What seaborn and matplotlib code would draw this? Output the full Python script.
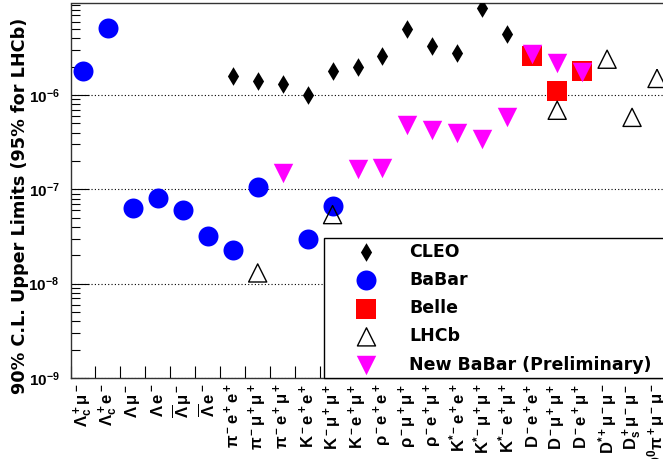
import numpy as np
import pandas as pd
import matplotlib
matplotlib.use("Agg")
import matplotlib.pyplot as plt
from matplotlib import ticker
import seaborn as sns

# decay channels along the x axis (keys + tick labels)
channels = ["Lc+mu-", "Lc+e-", "Lmu-", "Le-", "Lbarmu-", "Lbare-",
            "pi-e+e+", "pi-mu+mu+", "pi-e+mu+", "K-e+e+", "K-mu+mu+", "K-e+mu+",
            "rho-e+e+", "rho-mu+mu+", "rho-e+mu+", "K*-e+e+", "K*-mu+mu+", "K*-e+mu+",
            "D-e+e+", "D-mu+mu+", "D-e+mu+", "D*+mu-mu-", "Ds+mu-mu-", "D0pi+mu-mu-"]
channel_labels = [r"$\Lambda_c^+\mu^-$", r"$\Lambda_c^+e^-$", r"$\Lambda\,\mu^-$", r"$\Lambda\,e^-$",
                  r"$\overline{\Lambda}\,\mu^-$", r"$\overline{\Lambda}\,e^-$",
                  r"$\pi^-e^+e^+$", r"$\pi^-\mu^+\mu^+$", r"$\pi^-e^+\mu^+$",
                  r"$K^-e^+e^+$", r"$K^-\mu^+\mu^+$", r"$K^-e^+\mu^+$",
                  r"$\rho^-e^+e^+$", r"$\rho^-\mu^+\mu^+$", r"$\rho^-e^+\mu^+$",
                  r"$K^{*-}e^+e^+$", r"$K^{*-}\mu^+\mu^+$", r"$K^{*-}e^+\mu^+$",
                  r"$D^-e^+e^+$", r"$D^-\mu^+\mu^+$", r"$D^-e^+\mu^+$",
                  r"$D^{*+}\mu^-\mu^-$", r"$D_s^+\mu^-\mu^-$", r"$D^0\pi^+\mu^-\mu^-$"]

# upper limits per experiment
cleo_ch = ["pi-e+e+", "pi-mu+mu+", "pi-e+mu+", "K-e+e+", "K-mu+mu+", "K-e+mu+",
           "rho-e+e+", "rho-mu+mu+", "rho-e+mu+", "K*-e+e+", "K*-mu+mu+", "K*-e+mu+"]
cleo_ul = [1.6e-6, 1.4e-6, 1.3e-6, 1.0e-6, 1.8e-6, 2.0e-6,
           2.6e-6, 5.0e-6, 3.3e-6, 2.8e-6, 8.3e-6, 4.4e-6]

babar_ch = ["Lc+mu-", "Lc+e-", "Lmu-", "Le-", "Lbarmu-", "Lbare-",
            "pi-e+e+", "pi-mu+mu+", "K-e+e+", "K-mu+mu+"]
babar_ul = [1.8e-6, 5.2e-6, 6.3e-8, 8.1e-8, 6.1e-8, 3.2e-8,
            2.3e-8, 1.07e-7, 3.0e-8, 6.7e-8]

belle_ch = ["D-e+e+", "D-mu+mu+", "D-e+mu+"]
belle_ul = [2.6e-6, 1.1e-6, 1.8e-6]

lhcb_ch = ["pi-mu+mu+", "K-mu+mu+", "D-mu+mu+", "D*+mu-mu-", "Ds+mu-mu-", "D0pi+mu-mu-"]
lhcb_ul = [1.3e-8, 5.4e-8, 6.9e-7, 2.4e-6, 5.8e-7, 1.5e-6]

newbabar_ch = ["pi-e+mu+", "K-e+mu+", "rho-e+e+", "rho-mu+mu+", "rho-e+mu+",
               "K*-e+e+", "K*-mu+mu+", "K*-e+mu+", "D-e+e+", "D-mu+mu+", "D-e+mu+"]
newbabar_ul = [1.5e-7, 1.65e-7, 1.7e-7, 4.8e-7, 4.3e-7,
               4.0e-7, 3.4e-7, 5.9e-7, 2.7e-6, 2.2e-6, 1.75e-6]


def frame(ch, ul):
    return pd.DataFrame({"x": [channels.index(c) for c in ch], "ul": ul})


sns.set_theme(style="white")
plt.rcParams["font.family"] = ["Liberation Sans", "DejaVu Sans"]
plt.rcParams["font.weight"] = "bold"
plt.rcParams["text.color"] = "black"
plt.rcParams["axes.labelcolor"] = "black"
plt.rcParams["xtick.color"] = "black"
plt.rcParams["ytick.color"] = "black"
plt.rcParams["mathtext.fontset"] = "custom"
plt.rcParams["mathtext.rm"] = "Liberation Sans:bold"
plt.rcParams["mathtext.bf"] = "Liberation Sans:bold"
plt.rcParams["mathtext.it"] = "Liberation Sans:bold"
plt.rcParams["mathtext.default"] = "bf"

fig = plt.figure(figsize=(6.63, 4.59), dpi=100)
ax = fig.add_axes([70.5 / 663, 81 / 459, 599 / 663, 374.5 / 459])

sns.scatterplot(data=frame(cleo_ch, cleo_ul), x="x", y="ul", marker="d", s=90,
                color="black", linewidth=0, label="CLEO", ax=ax, zorder=3)
sns.scatterplot(data=frame(babar_ch, babar_ul), x="x", y="ul", marker="o", s=207,
                color="#0000ff", linewidth=0, label="BaBar", ax=ax, zorder=3)
sns.scatterplot(data=frame(belle_ch, belle_ul), x="x", y="ul", marker="s", s=196,
                color="#ff0000", linewidth=0, label="Belle", ax=ax, zorder=3)
sns.scatterplot(data=frame(lhcb_ch, lhcb_ul), x="x", y="ul", marker="^", s=170,
                facecolors="none", edgecolor="black", linewidth=1, label="LHCb", ax=ax, zorder=3)
sns.scatterplot(data=frame(newbabar_ch, newbabar_ul), x="x", y="ul", marker="v", s=196,
                color="#ff00ff", linewidth=0, label="New BaBar (Preliminary)", ax=ax, zorder=3)

ax.set_yscale("log")
ax.set_ylim(1e-9, 9.35e-6)
ax.set_xlim(-0.5, len(channels) - 0.5)

# x: labels at centres, tick marks at bin edges
ax.set_xticks(np.arange(len(channels)))
ax.set_xticklabels(channel_labels, rotation=90, fontsize=12, va="top", ha="center")
ax.set_xticks(np.arange(len(channels)) - 0.5, minor=True)
ax.tick_params(axis="x", which="major", length=0, pad=4)
ax.tick_params(axis="x", which="minor", direction="in", length=8.5, width=0.8, color="black", bottom=True)

ax.yaxis.set_major_locator(ticker.LogLocator(base=10, numticks=10))
ax.yaxis.set_minor_locator(ticker.LogLocator(base=10, subs=np.arange(2, 10), numticks=20))
ax.yaxis.set_minor_formatter(ticker.NullFormatter())
ax.yaxis.set_major_formatter(ticker.FuncFormatter(lambda v, p: r"$\mathbf{10^{%d}}$" % round(np.log10(v))))
ax.tick_params(axis="y", which="major", direction="in", length=13, width=0.8, color="black",
               labelsize=11, pad=8, left=True)
ax.tick_params(axis="y", which="minor", direction="in", length=6.5, width=0.8, color="black", left=True)
ax.yaxis.grid(True, which="major", linestyle=(0, (1, 2)), color="black", linewidth=0.8)
ax.xaxis.grid(False)

for sp in ax.spines.values():
    sp.set_color("#333333")
    sp.set_linewidth(1.0)

ax.set_xlabel("")
ax.set_ylabel("90% C.L. Upper Limits (95% for LHCb)", fontsize=12.7, fontweight="bold",
              family="DejaVu Sans")
ax.yaxis.set_label_coords(-0.069, 0.46)

leg = ax.legend(loc="lower left", bbox_to_anchor=(0.4224, 0.0, 0.5776, 0.3), mode="expand",
                borderaxespad=0, frameon=True, fancybox=False, framealpha=1,
                handlelength=4.45, handletextpad=0.25, borderpad=0.25, labelspacing=0.59,
                edgecolor="black", prop={"weight": "bold", "size": 12.5, "family": "DejaVu Sans"})
leg.get_frame().set_linewidth(1.0)

fig.savefig("out.png", dpi=100)
